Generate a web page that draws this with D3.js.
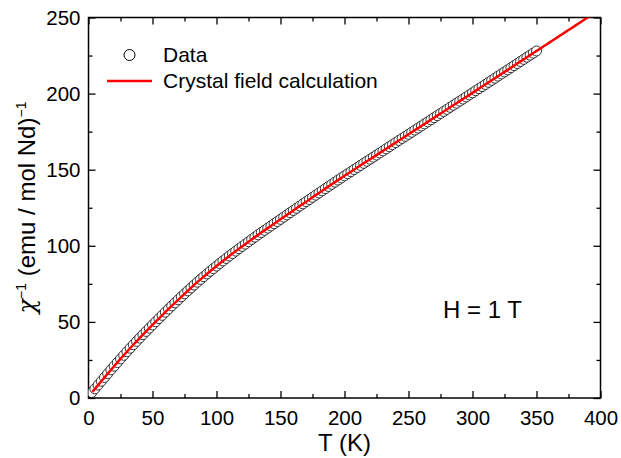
<!DOCTYPE html>
<html>
<head>
<meta charset="utf-8">
<script src="https://cdn.jsdelivr.net/npm/d3@7"></script>
<style>
  body { margin: 0; background: #fff; }
  svg { display: block; }
  text { font-family: "Liberation Sans", Arial, sans-serif; fill: #000; }
</style>
</head>
<body>
<svg id="chart" width="621" height="458"></svg>
<script>
// ---- data ----
const dataT = [2.5,5,7.5,10,12.5,15,17.5,20,22.5,25,27.5,30,32.5,35,37.5,40,42.5,45,47.5,50,
  52.5,55,57.5,60,62.5,65,67.5,70,72.5,75,77.5,80,82.5,85,87.5,90,92.5,95,97.5,100,
  102.5,105,107.5,110,112.5,115,117.5,120,122.5,125,127.5,130,132.5,135,137.5,140,142.5,145,147.5,150,
  152.5,155,157.5,160,162.5,165,167.5,170,172.5,175,177.5,180,182.5,185,187.5,190,192.5,195,197.5,200,
  202.5,205,207.5,210,212.5,215,217.5,220,222.5,225,227.5,230,232.5,235,237.5,240,242.5,245,247.5,250,
  252.5,255,257.5,260,262.5,265,267.5,270,272.5,275,277.5,280,282.5,285,287.5,290,292.5,295,297.5,300,
  302.5,305,307.5,310,312.5,315,317.5,320,322.5,325,327.5,330,332.5,335,337.5,340,342.5,345,347.5,350];
const dataChi = [3.6,6.0,8.5,11.0,13.5,16.0,18.5,20.9,23.3,25.7,28.05,30.4,32.7,35.0,37.2,39.4,41.6,43.75,45.9,48.0,
  50.1,52.2,54.3,56.4,58.45,60.5,62.5,64.5,66.5,68.45,70.4,72.3,74.2,76.1,77.9,79.7,81.5,83.25,85.0,86.7,
  88.4,90.05,91.7,93.3,94.9,96.5,98.05,99.6,101.1,102.65,104.2,105.7,107.2,108.7,110.15,111.6,113.05,114.5,115.95,117.4,
  118.85,120.3,121.75,123.2,124.65,126.1,127.55,129.0,130.4,131.85,133.3,134.7,136.1,137.55,139.0,140.4,141.8,143.2,144.6,146.0,
  147.35,148.7,150.1,151.45,152.8,154.2,155.55,156.9,158.25,159.6,161.0,162.35,163.7,165.1,166.45,167.8,169.2,170.55,171.9,173.25,
  174.6,176.0,177.35,178.7,180.1,181.45,182.8,184.15,185.5,186.9,188.25,189.6,191.0,192.35,193.7,195.05,196.4,197.8,199.15,200.5,
  201.9,203.25,204.6,206.0,207.4,208.75,210.1,211.5,212.9,214.25,215.6,217.0,218.4,219.75,221.1,222.5,223.9,225.25,226.6,228.0];

const calcT = [3,5,10,15,20,25,30,35,40,45,50,55,60,65,70,75,80,85,90,95,100,
  105,110,115,120,125,130,135,140,145,150,155,160,165,170,175,180,185,190,195,200,
  205,210,215,220,225,230,235,240,245,250,255,260,265,270,275,280,285,290,295,300,
  305,310,315,320,325,330,335,340,345,350,355,360,365,370,375,380,385,390,395,400];
const calcChi = [4.0,6.0,11.0,16.0,20.9,25.7,30.4,35.0,39.4,43.75,48.0,52.2,56.4,60.5,64.5,68.45,72.3,76.1,79.7,83.25,86.7,
  90.05,93.3,96.5,99.6,102.65,105.7,108.7,111.6,114.5,117.4,120.3,123.2,126.1,129.0,131.85,134.7,137.55,140.4,143.2,146.0,
  148.7,151.45,154.2,156.9,159.6,162.35,165.1,167.8,170.55,173.25,176.0,178.7,181.45,184.15,186.9,189.6,192.35,195.05,197.8,200.5,
  203.25,206.0,208.75,211.5,214.25,217.0,219.75,222.5,225.25,228.0,230.75,233.5,236.25,239.0,241.75,244.5,247.25,250.0,252.75,255.5];

const xTicks = [0,50,100,150,200,250,300,350,400];
const yTicks = [0,50,100,150,200,250];
const legendLabels = ["Data", "Crystal field calculation"];
const annotation = "H = 1 T";

// ---- layout ----
const svg = d3.select("#chart");
const L = 88.5, R = 600.5, T = 17.5, B = 398;
const x = d3.scaleLinear().domain([0, 400]).range([L, R]);
const y = d3.scaleLinear().domain([0, 250]).range([B, T]);

svg.append("defs").append("clipPath").attr("id", "clip")
  .append("rect").attr("x", L).attr("y", T).attr("width", R - L).attr("height", B - T);

const minorX = d3.range(25, 400, 50);
const minorY = d3.range(25, 250, 50);

function tickAxis(axisGen, transform, showLabels) {
  const g = svg.append("g").attr("transform", transform).call(axisGen);
  g.select(".domain").remove();
  g.selectAll("line").attr("stroke", "#000").attr("stroke-width", 1.3);
  g.selectAll("text").style("font-family", "'Liberation Sans', Arial, sans-serif")
    .style("font-size", "20.5px").attr("fill", "#000");
  if (!showLabels) g.selectAll("text").remove();
  return g;
}
// bottom
tickAxis(d3.axisBottom(x).tickValues(xTicks).tickSize(-7).tickPadding(12).tickFormat(d3.format("d")), `translate(0,${B})`, true);
tickAxis(d3.axisBottom(x).tickValues(minorX).tickSize(-4).tickFormat(""), `translate(0,${B})`, false);
// top
tickAxis(d3.axisTop(x).tickValues(xTicks).tickSize(-7).tickFormat(""), `translate(0,${T})`, false);
tickAxis(d3.axisTop(x).tickValues(minorX).tickSize(-4).tickFormat(""), `translate(0,${T})`, false);
// left
tickAxis(d3.axisLeft(y).tickValues(yTicks).tickSize(-7).tickPadding(8).tickFormat(d3.format("d")), `translate(${L},0)`, true);
tickAxis(d3.axisLeft(y).tickValues(minorY).tickSize(-4).tickFormat(""), `translate(${L},0)`, false);
// right
tickAxis(d3.axisRight(y).tickValues(yTicks).tickSize(-7).tickFormat(""), `translate(${R},0)`, false);
tickAxis(d3.axisRight(y).tickValues(minorY).tickSize(-4).tickFormat(""), `translate(${R},0)`, false);

// frame
svg.append("rect").attr("x", L).attr("y", T).attr("width", R - L).attr("height", B - T)
  .attr("fill", "none").attr("stroke", "#000").attr("stroke-width", 1.5);

// data circles
const plot = svg.append("g").attr("clip-path", "url(#clip)");
plot.selectAll("circle.d").data(dataT.map((t, i) => [t, dataChi[i]])).join("circle")
  .attr("class", "d")
  .attr("cx", d => x(d[0])).attr("cy", d => y(d[1])).attr("r", 5)
  .attr("fill", "#fff").attr("stroke", "#000").attr("stroke-width", 0.8);

// calc line
const line = d3.line().x(d => x(d[0])).y(d => y(d[1])).curve(d3.curveMonotoneX);
plot.append("path").datum(calcT.map((t, i) => [t, calcChi[i]]))
  .attr("d", line).attr("fill", "none").attr("stroke", "#ff0000").attr("stroke-width", 2.5);

// legend
svg.append("circle").attr("cx", 129.5).attr("cy", 55).attr("r", 5.5)
  .attr("fill", "#fff").attr("stroke", "#000").attr("stroke-width", 1);
svg.append("text").attr("x", 163).attr("y", 62).style("font-size", "21px").text(legendLabels[0]);
svg.append("line").attr("x1", 107).attr("x2", 152).attr("y1", 81).attr("y2", 81)
  .attr("stroke", "#ff0000").attr("stroke-width", 2.5);
svg.append("text").attr("x", 163).attr("y", 88).style("font-size", "21px").text(legendLabels[1]);

// annotation
svg.append("text").attr("x", 443).attr("y", 318).style("font-size", "24px").text(annotation);

// axis titles
svg.append("text").attr("x", x(200)).attr("y", 451).attr("text-anchor", "middle")
  .style("font-size", "24px").text("T (K)");

const yt = svg.append("text").attr("transform", `translate(35,207.5) rotate(-90)`)
  .attr("text-anchor", "middle").style("font-size", "24px");
yt.append("tspan").style("font-family", "'DejaVu Serif', serif").style("font-style", "italic").text("χ");
yt.append("tspan").attr("dy", -9).style("font-size", "14px").text("−1");
yt.append("tspan").attr("dy", 9).text(" (emu / mol Nd)");
yt.append("tspan").attr("dy", -9).style("font-size", "14px").text("−1");
</script>
</body>
</html>
